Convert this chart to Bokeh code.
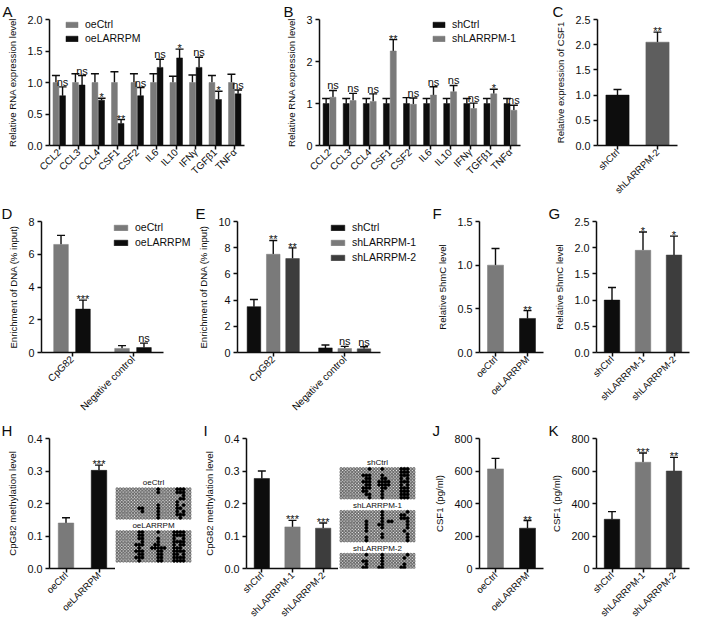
import math
from bokeh.plotting import figure
from bokeh.layouts import row, column
from bokeh.models import (ColumnDataSource, FactorRange, Range1d, FixedTicker,
                          PrintfTickFormatter, Whisker, TeeHead, Legend, LegendItem)
from bokeh.transform import dodge
from bokeh.core.properties import value, field
from bokeh.embed import file_html
from bokeh.resources import INLINE

# ---------------- data ----------------
cytokines = ["CCL2", "CCL3", "CCL4", "CSF1", "CSF2", "IL6", "IL10", "IFNγ", "TGFβ1", "TNFα"]

a_oectrl = [1.0, 1.0, 1.0, 1.0, 1.0, 1.0, 1.0, 1.0, 1.0, 1.0]
a_oectrl_sd = [0.11, 0.14, 0.14, 0.17, 0.14, 0.14, 0.10, 0.12, 0.11, 0.13]
a_oelarrpm = [0.79, 0.96, 0.72, 0.35, 0.79, 1.24, 1.39, 1.24, 0.73, 0.82]
a_oelarrpm_sd = [0.14, 0.15, 0.03, 0.06, 0.13, 0.13, 0.14, 0.16, 0.13, 0.06]
a_sig = ["ns", "ns", "*", "**", "ns", "ns", "*", "ns", "*", "ns"]
a_ticks = [0.0, 0.5, 1.0, 1.5, 2.0]

b_shctrl = [1.0, 1.0, 1.0, 1.0, 1.0, 1.0, 1.0, 1.0, 1.0, 1.0]
b_shctrl_sd = [0.12, 0.12, 0.12, 0.12, 0.14, 0.12, 0.12, 0.12, 0.12, 0.12]
b_sh1 = [1.15, 1.07, 1.05, 2.25, 0.98, 1.20, 1.28, 0.88, 1.23, 0.84]
b_sh1_sd = [0.16, 0.17, 0.18, 0.27, 0.15, 0.20, 0.15, 0.13, 0.11, 0.12]
b_sig = ["ns", "ns", "ns", "**", "ns", "ns", "ns", "ns", "*", "ns"]
b_ticks = [0, 1, 2, 3]

c_groups = ["shCtrl", "shLARRPM-2"]
c_vals = [1.0, 2.05]
c_sd = [0.11, 0.20]
c_sig = ["", "**"]
c_ticks = [0.0, 0.5, 1.0, 1.5, 2.0, 2.5]

chip_cats = ["CpG82", "Negative control"]
d_oectrl = [6.6, 0.25]
d_oectrl_sd = [0.55, 0.17]
d_oelarrpm = [2.65, 0.30]
d_oelarrpm_sd = [0.55, 0.27]
d_sig = ["***", "ns"]
d_ticks = [0, 2, 4, 6, 8]

e_shctrl = [3.5, 0.35]
e_shctrl_sd = [0.55, 0.22]
e_sh1 = [7.5, 0.30]
e_sh1_sd = [1.05, 0.17]
e_sh1_sig = ["**", "ns"]
e_sh2 = [7.17, 0.28]
e_sh2_sd = [0.82, 0.16]
e_sh2_sig = ["**", "ns"]
e_ticks = [0, 2, 4, 6, 8, 10]

oe_groups = ["oeCtrl", "oeLARRPM"]
sh_groups = ["shCtrl", "shLARRPM-1", "shLARRPM-2"]

f_vals = [1.0, 0.39]
f_sd = [0.19, 0.09]
f_sig = ["", "**"]
f_ticks = [0.0, 0.5, 1.0, 1.5]

g_vals = [1.0, 1.95, 1.86]
g_sd = [0.24, 0.35, 0.36]
g_sig = ["", "*", "*"]
g_ticks = [0.0, 0.5, 1.0, 1.5, 2.0, 2.5]

h_vals = [0.14, 0.302]
h_sd = [0.016, 0.016]
h_sig = ["", "***"]
h_ticks = [0.0, 0.1, 0.2, 0.3, 0.4]

i_vals = [0.277, 0.128, 0.124]
i_sd = [0.023, 0.020, 0.016]
i_sig = ["", "***", "***"]

j_vals = [613, 248]
j_sd = [65, 47]
j_sig = ["", "**"]
j_ticks = [0, 200, 400, 600, 800]

k_vals = [303, 654, 600]
k_sd = [47, 57, 84]
k_sig = ["", "***", "**"]

# bisulfite sequencing: methylated CpG columns for each clone (row)
meth_oectrl = [[13, 19, 20, 21], [13, 19, 20, 21], [21], [20, 21], [19], [13, 19, 21],
               [7, 8, 13, 19, 20], [8, 13, 19, 21], [13, 19, 20, 21], [13, 20]]
meth_oelarrpm = [[7, 8, 13, 18, 19, 20, 21], [7, 8, 18, 19, 20, 21], [7, 8, 13, 18, 21],
                 [8, 13, 18, 19, 20, 21], [6, 7, 8, 12, 13, 18, 20, 21],
                 [7, 11, 12, 13, 14, 15, 18, 19, 20], [6, 7, 8, 13, 14, 18, 19, 20, 21],
                 [7, 8, 13, 14, 18, 19, 21], [6, 7, 8, 13, 14, 18, 19, 20, 21],
                 [7, 13, 14, 18, 19, 20, 21]]
meth_shctrl = [[9, 13, 19, 20, 21], [19, 20, 21], [7, 8, 9, 13, 19, 20, 21], [8, 9, 13, 14, 19, 21],
               [7, 8, 9, 12, 13, 14, 15, 19, 20, 21], [8, 9, 12, 13, 14, 15, 19, 21],
               [7, 8, 9, 13, 14, 19, 20, 21], [7, 8, 13, 19, 20, 21], [8, 9, 13, 19, 20, 21],
               [9, 13, 19, 20, 21]]
meth_sh1 = [[13, 21], [13, 19, 20], [13, 19, 20, 21], [8, 13, 15, 16, 21], [8, 12, 13, 21],
            [8, 13, 21], [8, 20], [13, 21], [8, 13, 21], [8, 21]]
meth_sh2 = [[8, 13, 21], [13, 20], [7, 8, 13], [8, 13, 20], [7, 8, 12, 13, 19, 20],
            [6, 7, 13, 14, 20], [8, 13], [8, 13, 14, 20], [8, 14, 19, 20], [8, 14, 19, 20]]
N_CPG = 24

# ---------------- style ----------------
S = 0.975
FONT = "Liberation Sans"
GRAY = "#7a7a7a"
DARK = "#3d3d3d"
MID = "#5e5e5e"
BLACK = "#0d0d0d"

# row boxes (reference pixel coords) and shared frame top/bottom per row
ROW1 = (0, 207, 16, 150)
ROW2 = (207, 430, 225, 361)
ROW3 = (430, 641, 448, 583)


def sc(v):
    return int(round(v * S))


def base_fig(xbox, rowspec, xframe, x_range, y_range):
    x0, x1 = xbox
    y0, y1, t, b = rowspec
    l, r = xframe
    W = sc(x1) - sc(x0)
    H = sc(y1) - sc(y0)
    bl = sc(l) - sc(x0)
    br = sc(x1) - sc(r)
    bt = sc(t) - sc(y0)
    bb = sc(y1) - sc(b)
    p = figure(width=W, height=H, x_range=x_range, y_range=y_range,
               output_backend="svg", toolbar_location=None,
               min_border_left=bl, min_border_right=br,
               min_border_top=bt, min_border_bottom=bb)
    p.outline_line_color = None
    p.background_fill_color = "white"
    return p, W - bl - br, H - bt - bb


def bar_panel(xbox, rowspec, xframe, cats, ymax, ticks, fmt, ylabel, letter, letter_x,
              axis_r=None, xfont="10px"):
    l, r = xframe
    n = len(cats)
    if axis_r is None:
        xr = FactorRange(factors=cats)
    else:
        xr = Range1d(0, n * (sc(r) - sc(l)) / (sc(axis_r) - sc(l)))
    p, fw, fh = base_fig(xbox, rowspec, xframe, xr, Range1d(0, ymax))
    p.xgrid.visible = False
    p.ygrid.visible = False
    if axis_r is not None:
        p.xaxis.bounds = (0, n)
        p.xaxis.ticker = FixedTicker(ticks=[i + 0.5 for i in range(n)], minor_ticks=[])
        p.xaxis.major_label_overrides = {i + 0.5: c for i, c in enumerate(cats)}
    p.yaxis.ticker = FixedTicker(ticks=ticks, minor_ticks=[])
    p.yaxis.formatter = PrintfTickFormatter(format=fmt)
    p.yaxis.axis_label = ylabel
    p.yaxis.axis_label_text_font = FONT
    p.yaxis.axis_label_text_font_size = "9.6px"
    p.yaxis.axis_label_text_font_style = "normal"
    p.yaxis.axis_label_text_color = BLACK
    p.yaxis.axis_label_standoff = 6
    for ax in (p.xaxis, p.yaxis):
        ax.axis_line_width = 1.5
        ax.axis_line_color = BLACK
        ax.major_tick_line_width = 1.5
        ax.major_tick_line_color = BLACK
        ax.major_tick_out = 4
        ax.major_tick_in = 0
        ax.minor_tick_line_color = None
        ax.major_label_text_font = FONT
        ax.major_label_text_color = BLACK
    p.yaxis.major_label_text_font_size = "10.8px"
    p.yaxis.major_label_standoff = 3
    p.xaxis.major_label_text_font_size = xfont
    p.xaxis.major_label_standoff = 1
    p.xaxis.major_label_orientation = math.pi / 4
    # panel letter as the figure title, pulled left of the frame
    p.title.text = letter
    p.title.align = "left"
    p.title.offset = sc(letter_x) - sc(l)
    p.title.standoff = 0
    p.title.vertical_align = "bottom"
    p.title.text_font = FONT
    p.title.text_font_size = "15px"
    p.title.text_font_style = "normal"
    p.title.text_color = BLACK
    return p


def add_series(p, cats, vals, sd, sig, colors, off, width):
    hi = [v + s for v, s in zip(vals, sd)]
    if isinstance(colors, str):
        colors = [colors] * len(cats)
    numeric = isinstance(p.x_range, Range1d)
    if numeric:
        xpos = [i + 0.5 + off for i in range(len(cats))]
        src = ColumnDataSource(dict(x=xpos, val=vals, hi=hi, color=colors))
        xs = "x"
        xs2 = "x"
    else:
        src = ColumnDataSource(dict(cat=cats, val=vals, hi=hi, color=colors))
        xs = dodge("cat", off, range=p.x_range)
        xs2 = dodge("cat", off, range=p.x_range)
    r = p.vbar(x=xs, top="val", width=width, source=src,
               fill_color=field("color"), line_color=field("color"), line_width=0.5)
    p.add_layout(Whisker(source=src, base=xs2, lower="val", upper="hi",
                         line_color=BLACK, line_width=1.4,
                         upper_head=TeeHead(size=8, line_color=BLACK, line_width=1.4),
                         lower_head=None))
    for kind, yo in (("n", 1), ("*", 5)):
        idx = [i for i, s in enumerate(sig) if s and s.startswith(kind)]
        if not idx:
            continue
        if numeric:
            s2 = ColumnDataSource(dict(x=[i + 0.5 + off for i in idx], hi=[hi[i] for i in idx],
                                       t=[sig[i] for i in idx]))
            tx = "x"
        else:
            s2 = ColumnDataSource(dict(cat=[cats[i] for i in idx], hi=[hi[i] for i in idx],
                                       t=[sig[i] for i in idx]))
            tx = dodge("cat", off, range=p.x_range)
        p.text(x=tx, y="hi", text="t", source=s2,
               text_align="center", text_baseline="bottom", y_offset=yo,
               text_font=value(FONT), text_font_size="11px", text_color=BLACK)
    return r


def add_legend(p, rowspec, xframe, items, sw_x, first_center_y, gw, spacing, font="10.5px"):
    y0, y1, t, b = rowspec
    l, r = xframe
    n = len(items)
    ih = 14
    height = n * ih + (n - 1) * spacing
    top_y = first_center_y - ih / 2 / S
    leg = Legend(items=[LegendItem(label=nm, renderers=[rr]) for nm, rr in items],
                 location=(sc(sw_x) - sc(l), int(round(sc(b) - top_y * S - height))),
                 orientation="vertical", border_line_color=None,
                 background_fill_alpha=0, padding=0, margin=0, spacing=int(spacing),
                 glyph_width=gw, glyph_height=7, label_standoff=6, label_height=ih,
                 label_text_font=FONT, label_text_font_size=font,
                 label_text_color=BLACK, label_text_baseline="middle")
    p.add_layout(leg)


def grid_panel(xbox, rowspec, grid_left, grid_top, names, patterns):
    y0, y1, t, b = rowspec
    NROW = 10
    GAP = 3.5
    px = 78 / N_CPG
    py = 3.3
    y_end = 0.5 + (grid_top - t) / py
    y_start = y_end - (b - t) / py
    p, fw, fh = base_fig(xbox, rowspec, (grid_left, grid_left + N_CPG * px),
                         Range1d(-0.5, N_CPG - 0.5), Range1d(y_start, y_end))
    p.xaxis.visible = False
    p.yaxis.visible = False
    p.xgrid.visible = False
    p.ygrid.visible = False
    ox, oy, mx, my, lx, ly = [], [], [], [], [], []
    for k, pat in enumerate(patterns):
        top = -k * (NROW + GAP)
        for r_i, cols in enumerate(pat):
            for c in range(N_CPG):
                ox.append(c)
                oy.append(top - r_i)
            for c in cols:
                mx.append(c)
                my.append(top - r_i)
        lx.append((N_CPG - 1) / 2)
        ly.append(top + 2.0)
    p.scatter(ox, oy, marker="circle", size=3.0, fill_color="#a8a8a8",
              line_color="#404040", line_width=0.6)
    p.scatter(mx, my, marker="circle", size=3.4, fill_color="black", line_color="black",
              line_width=0.4)
    p.text(x=lx, y=ly, text=names, text_align="center", text_baseline="middle",
           text_font=value(FONT), text_font_size="8px", text_color=BLACK)
    return p


# ---------------- panels ----------------
# A
xA = (50, 250)
pA = bar_panel((0, 265), ROW1, xA, cytokines, 2.0, a_ticks, "%.1f",
               "Relative RNA expression level", "A", 2)
rA1 = add_series(pA, cytokines, a_oectrl, a_oectrl_sd, [""] * 10, GRAY, -0.17, 0.3)
rA2 = add_series(pA, cytokines, a_oelarrpm, a_oelarrpm_sd, a_sig, BLACK, 0.17, 0.3)
add_legend(pA, ROW1, xA, [("oeCtrl", rA1), ("oeLARRPM", rA2)], 66, 26, 15, 0)

# B
xB = (327, 533)
pB = bar_panel((265, 560), ROW1, xB, cytokines, 3, b_ticks, "%d",
               "Relative RNA expression level", "B", 290)
rB1 = add_series(pB, cytokines, b_shctrl, b_shctrl_sd, [""] * 10, BLACK, -0.17, 0.3)
rB2 = add_series(pB, cytokines, b_sh1, b_sh1_sd, b_sig, GRAY, 0.17, 0.3)
add_legend(pB, ROW1, xB, [("shCtrl", rB1), ("shLARRPM-1", rB2)], 442, 26, 15, 0)

# C
xC = (612, 694)
pC = bar_panel((560, 708), ROW1, xC, c_groups, 2.5, c_ticks, "%.1f",
               "Relative expression of CSF1", "C", 566, xfont="9.5px")
add_series(pC, c_groups, c_vals, c_sd, c_sig, [BLACK, MID], 0, 0.58)

# D (frame reaches the figure edge so the legend can sit past the axis end)
xD = (42, 197)
pD = bar_panel((0, 198), ROW2, xD, chip_cats, 8, d_ticks, "%d",
               "Enrichment of DNA (% input)", "D", 1, axis_r=167)
rD1 = add_series(pD, chip_cats, d_oectrl, d_oectrl_sd, ["", ""], GRAY, -0.18, 0.24)
rD2 = add_series(pD, chip_cats, d_oelarrpm, d_oelarrpm_sd, d_sig, BLACK, 0.18, 0.24)
add_legend(pD, ROW2, xD, [("oeCtrl", rD1), ("oeLARRPM", rD2)], 115, 233, 17, 1)

# E
xE = (243, 439)
pE = bar_panel((198, 440), ROW2, xE, chip_cats, 10, e_ticks, "%d",
               "Enrichment of DNA (% input)", "E", 200, axis_r=390)
rE1 = add_series(pE, chip_cats, e_shctrl, e_shctrl_sd, ["", ""], BLACK, -0.27, 0.19)
rE2 = add_series(pE, chip_cats, e_sh1, e_sh1_sd, e_sh1_sig, GRAY, 0.0, 0.19)
rE3 = add_series(pE, chip_cats, e_sh2, e_sh2_sd, e_sh2_sig, DARK, 0.27, 0.19)
add_legend(pE, ROW2, xE, [("shCtrl", rE1), ("shLARRPM-1", rE2), ("shLARRPM-2", rE3)],
           337, 233, 17, 1)

# F
xF = (491, 557)
pF = bar_panel((440, 560), ROW2, xF, oe_groups, 1.5, f_ticks, "%.1f",
               "Relative 5hmC level", "F", 443, xfont="9.5px")
add_series(pF, oe_groups, f_vals, f_sd, f_sig, [GRAY, BLACK], 0, 0.5)

# G
xG = (611, 707)
pG = bar_panel((560, 708), ROW2, xG, sh_groups, 2.5, g_ticks, "%.1f",
               "Relative 5hmC level", "G", 562, xfont="9.5px")
add_series(pG, sh_groups, g_vals, g_sd, g_sig, [BLACK, GRAY, DARK], 0, 0.5)

# H
xH = (50, 118)
pH = bar_panel((0, 118), ROW3, xH, oe_groups, 0.4, h_ticks, "%.1f",
               "CpG82 methylation level", "H", 1, xfont="9.5px")
add_series(pH, oe_groups, h_vals, h_sd, h_sig, [GRAY, BLACK], 0, 0.47)
gH = grid_panel((118, 205), ROW3, 118, 499, oe_groups, [meth_oectrl, meth_oelarrpm])

# I
xI = (252, 347)
pI = bar_panel((205, 347), ROW3, xI, sh_groups, 0.4, h_ticks, "%.1f",
               "CpG82 methylation level", "I", 208, xfont="9.5px")
add_series(pI, sh_groups, i_vals, i_sd, i_sig, [BLACK, GRAY, DARK], 0, 0.5)
gI = grid_panel((347, 440), ROW3, 348, 478, sh_groups, [meth_shctrl, meth_sh1, meth_sh2])

# J
xJ = (491, 557)
pJ = bar_panel((440, 560), ROW3, xJ, oe_groups, 800, j_ticks, "%d",
               "CSF1 (pg/ml)", "J", 443, xfont="9.5px")
add_series(pJ, oe_groups, j_vals, j_sd, j_sig, [GRAY, BLACK], 0, 0.5)

# K
xK = (611, 707)
pK = bar_panel((560, 708), ROW3, xK, sh_groups, 800, j_ticks, "%d",
               "CSF1 (pg/ml)", "K", 562, xfont="9.5px")
add_series(pK, sh_groups, k_vals, k_sd, k_sig, [BLACK, GRAY, DARK], 0, 0.5)

layout = column(row(pA, pB, pC), row(pD, pE, pF, pG), row(pH, gH, pI, gI, pJ, pK))

open("out.html", "w").write(file_html(layout, INLINE))
